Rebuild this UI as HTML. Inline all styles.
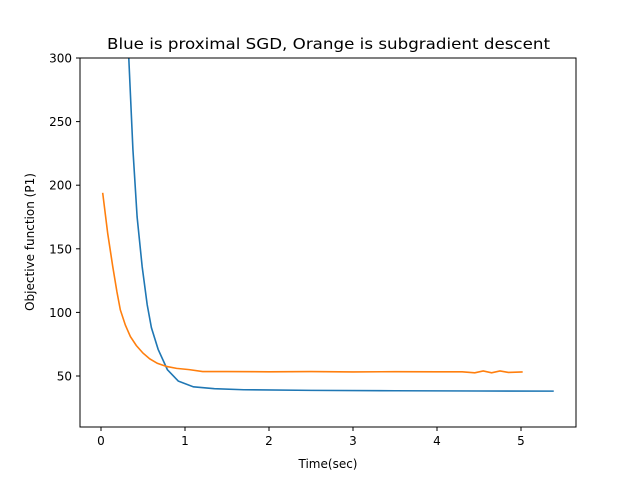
<!DOCTYPE html>
<html><head><meta charset="utf-8"><style>
body{margin:0;background:#fff;}
svg{display:block;font-family:"DejaVu Sans","Liberation Sans",sans-serif;}
</style></head><body>
<svg id="chart" width="640" height="480">
<rect width="640" height="480" fill="#fff"/>
<text x="107" y="49" font-size="15.5" textLength="443" lengthAdjust="spacingAndGlyphs">Blue is proximal SGD, Orange is subgradient descent</text>
<g id="ticks"></g>
<defs><clipPath id="plotclip"><rect x="80" y="58" width="496" height="369"/></clipPath></defs>
<g id="lines" clip-path="url(#plotclip)"></g>
<rect x="80" y="58" width="496" height="369" fill="none" stroke="#000" stroke-width="1"/>
<text x="328" y="468" font-size="12" text-anchor="middle">Time(sec)</text>
<text transform="translate(34,242) rotate(-90)" font-size="12" text-anchor="middle">Objective function (P1)</text>
</svg>
<script>
const blueT=[0.30,0.38,0.43,0.49,0.55,0.60,0.68,0.79,0.92,1.10,1.35,1.70,2.5,3.5,4.5,5.39];
const blueV=[345,228,175,136,106,88,71,55,46,41.5,40,39.2,38.7,38.4,38.2,38.1];
const orangeT=[0.02,0.08,0.14,0.19,0.23,0.29,0.35,0.42,0.50,0.58,0.67,0.78,0.90,1.05,1.21,1.5,2.0,2.5,3.0,3.5,4.0,4.3,4.45,4.55,4.65,4.75,4.85,5.02];
const orangeV=[194,162,136,116,102,90,81,74,68,63.5,60,57.5,56,55,53.5,53.5,53.3,53.5,53.2,53.4,53.3,53.3,52.5,54,52.5,54,52.8,53.2];
const xTicks=[0,1,2,3,4,5];
const yTicks=[50,100,150,200,250,300];
const xs=t=>101+84*t;
const ys=v=>376-(v-50)*1.272;
const NS="http://www.w3.org/2000/svg";
const tg=document.getElementById('ticks');
xTicks.forEach(t=>{
  const l=document.createElementNS(NS,'line');
  l.setAttribute('x1',xs(t));l.setAttribute('x2',xs(t));l.setAttribute('y1',427);l.setAttribute('y2',431);l.setAttribute('stroke','#000');
  
  
  tg.appendChild(l);
  const tx=document.createElementNS(NS,'text');
  tx.setAttribute('x',xs(t));tx.setAttribute('y',445);tx.setAttribute('font-size','12');tx.setAttribute('text-anchor','middle');tx.textContent=t;
  
  
  tg.appendChild(tx);
});
yTicks.forEach(v=>{
  const l=document.createElementNS(NS,'line');
  l.setAttribute('x1',76);l.setAttribute('x2',80);l.setAttribute('y1',ys(v));l.setAttribute('y2',ys(v));l.setAttribute('stroke','#000');
  
  
  tg.appendChild(l);
  const tx=document.createElementNS(NS,'text');
  tx.setAttribute('x',72);tx.setAttribute('y',ys(v)+4.5);tx.setAttribute('font-size','12');tx.setAttribute('text-anchor','end');tx.textContent=v;
  
  
  tg.appendChild(tx);
});
const lg=document.getElementById('lines');
function line(T,V,color,name){
  const p=document.createElementNS(NS,'polyline');
  p.setAttribute('points',T.map((t,i)=>xs(t)+','+ys(V[i])).join(' '));
  p.setAttribute('fill','none');p.setAttribute('stroke',color);p.setAttribute('stroke-width','1.6');
  
  
  lg.appendChild(p);
}
line(blueT,blueV,'#1f77b4','proximal-sgd-line');
line(orangeT,orangeV,'#ff7f0e','subgradient-descent-line');
</script>
</body></html>
